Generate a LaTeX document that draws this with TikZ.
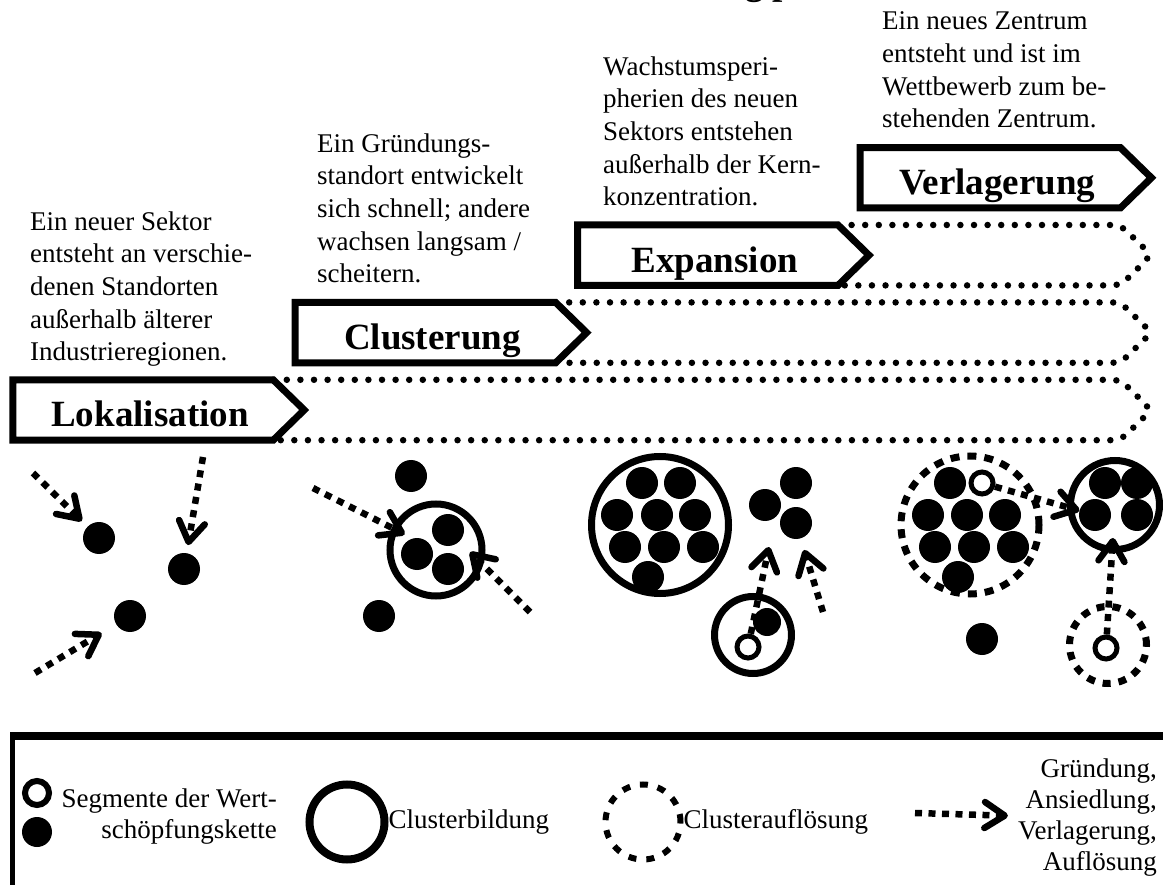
\documentclass[tikz,border=0pt]{standalone}
\usepackage{fontspec}
\setmainfont{Liberation Serif}
\usepackage{tikz}
\usetikzlibrary{
  arrows.meta, % for Straight Barb arrow tip
  positioning, % for relative positioning of the phase boxes and labels
}
\tikzset{
  phase/.style={ % style for the phase names
    rectangle, % the arrow outline is drawn separately
    inner sep=0pt, % no padding, the size is fixed below
    minimum width=260pt, % length of the straight part of the arrow box
    minimum height=60pt, % height of the arrow box
    text height=34pt,text depth=0pt, % puts the baseline low in the box
    execute at begin node=\hspace*{14pt}, % name sits a little to the right
    font=\fontsize{37}{40}\selectfont\bfseries,
    node distance=17pt and 22pt, % step between the phases (y and x)
  },
  phaseframe/.style={ % outline of the arrow boxes
    line width=7pt,
  },
  lane/.style={ % dotted continuation of each phase
    line width=6.5pt,line cap=round,
    dash pattern=on 0pt off 13.6pt, % round dots
    rounded corners=8pt,
  },
  desc/.style={ % text above each phase, placed at its last baseline
    align=left,inner sep=0pt,anchor=base west,
    font=\fontsize{27}{32.7}\selectfont,
  },
  seg/.style={ % segment of the value chain
    circle,fill,inner sep=0pt,
    minimum size=32pt,
  },
  ring/.style={ % open segment of the value chain
    circle,draw,fill=white,line width=5pt,inner sep=0pt,
    minimum size=22pt,
  },
  cluster/.style={ % cluster boundary
    circle,draw,line width=7pt,inner sep=0pt,
  },
  dissolve/.style={ % dissolving cluster
    cluster, % inherit the cluster style
    dash pattern=on 9pt off 8pt,
  },
  flow/.style={ % founding, settlement, relocation, closure
    line width=6.5pt,
    dash pattern=on 7pt off 6.5pt,
    -{Straight Barb[length=20pt,width=26pt,round]},
    shorten >=8pt,
  },
  legtext/.style={ % texts of the legend
    inner sep=0pt,
    font=\fontsize{27}{31}\selectfont,
  },
}

\begin{document}
\begin{tikzpicture}[x=1pt,y=-1pt]

	\useasboundingbox (0,0) rectangle (1163,885);

	\node[anchor=base west,inner sep=0pt,font=\fontsize{37}{40}\selectfont\bfseries] (title) at (745,-5) {g p};

	\node[phase] (lok) at (143,410) {Lokalisation};
	\node[phase,above right=of lok] (clu) {Clusterung};
	\node[phase,above right=of clu] (exp) {Expansion};
	\node[phase,above right=of exp] (ver) {Verlagerung};

	\draw[lane] (lok.north east) -- (ver.east |- lok.north east) -- ([xshift=31pt]ver.east |- lok.east) -- (ver.east |- lok.south east) -- (lok.south east);
	\draw[lane] (clu.north east) -- (ver.east |- clu.north east) -- ([xshift=31pt]ver.east |- clu.east) -- (ver.east |- clu.south east) -- (clu.south east);
	\draw[lane] (exp.north east) -- (ver.east |- exp.north east) -- ([xshift=31pt]ver.east |- exp.east) -- (ver.east |- exp.south east) -- (exp.south east);

	\draw[phaseframe] (lok.north west) -- (lok.north east) -- ([xshift=31pt]lok.east) -- (lok.south east) -- (lok.south west) -- cycle;
	\draw[phaseframe] (clu.north west) -- (clu.north east) -- ([xshift=31pt]clu.east) -- (clu.south east) -- (clu.south west) -- cycle;
	\draw[phaseframe] (exp.north west) -- (exp.north east) -- ([xshift=31pt]exp.east) -- (exp.south east) -- (exp.south west) -- cycle;
	\draw[phaseframe] (ver.north west) -- (ver.north east) -- ([xshift=31pt]ver.east) -- (ver.south east) -- (ver.south west) -- cycle;

	\node[desc] (lokdesc) at (30,361) {Ein neuer Sektor\\entsteht an verschie-\\denen Standorten\\außerhalb älterer\\Industrieregionen.};
	\node[desc] (cludesc) at (317,283) {Ein Gründungs-\\standort entwickelt\\sich schnell; andere\\wachsen langsam /\\scheitern.};
	\node[desc] (expdesc) at (603,206) {Wachstumsperi-\\pherien des neuen\\Sektors entstehen\\außerhalb der Kern-\\konzentration.};
	\node[desc] (verdesc) at (882,128) {Ein neues Zentrum\\entsteht und ist im\\Wettbewerb zum be-\\stehenden Zentrum.};

	% Lokalisation
	\node[seg] (lseg1) at (99,538) {};
	\node[seg] (lseg2) at (184,569) {};
	\node[seg] (lseg3) at (130,616) {};
	\coordinate (lsrc1) at (33,473);
	\coordinate (lsrc2) at (203,457);
	\coordinate (lsrc3) at (35,673);
	\draw[flow] (lsrc1) -- (lseg1);
	\draw[flow] (lsrc2) -- (lseg2);
	\draw[flow,shorten >=17pt] (lsrc3) -- (lseg3);

	% Clusterung
	\node[seg] (cseg1) at (411,476) {};
	\node[cluster,minimum size=92pt] (cclu) at (436,550) {};
	\node[seg] (cseg2) at (448,530) {};
	\node[seg] (cseg3) at (417,554) {};
	\node[seg] (cseg4) at (448,569) {};
	\node[seg] (cseg5) at (379,616) {};
	\coordinate (csrc1) at (313,488);
	\coordinate (csrc2) at (530,612);
	\draw[flow,shorten >=35pt] (csrc1) -- (cclu.center);
	\draw[flow,shorten >=15pt] (csrc2) -- (cseg2);

	% Expansion
	\node[cluster,minimum size=137pt] (eclu) at (660,525) {};
	\node[seg] (ein1) at (642,483) {};
	\node[seg] (ein2) at (680,483) {};
	\node[seg] (ein3) at (617,515) {};
	\node[seg] (ein4) at (657,515) {};
	\node[seg] (ein5) at (695,515) {};
	\node[seg] (ein6) at (625,547) {};
	\node[seg] (ein7) at (664,547) {};
	\node[seg] (ein8) at (703,547) {};
	\node[seg] (ein9) at (648,577) {};
	\node[seg] (eout1) at (765,505) {};
	\node[seg] (eout2) at (796,483) {};
	\node[seg] (eout3) at (796,523) {};
	\node[cluster,minimum size=77pt] (eclu2) at (753,635) {};
	\node[seg,minimum size=28pt] (eout4) at (767,622) {};
	\node[ring] (ering) at (748,647) {};
	\coordinate (etip) at (769,547);
	\coordinate (esrc) at (823,612);
	\draw[flow,shorten >=0pt] (ering) -- (etip);
	\draw[flow,shorten >=12pt] (esrc) -- (eout3);

	% Verlagerung
	\node[dissolve,minimum size=138pt] (vclu) at (970,525) {};
	\node[seg] (vin1) at (950,483) {};
	\node[ring] (vring1) at (982,483) {};
	\node[seg] (vin2) at (928,515) {};
	\node[seg] (vin3) at (967,515) {};
	\node[seg] (vin4) at (1005,515) {};
	\node[seg] (vin5) at (935,547) {};
	\node[seg] (vin6) at (974,547) {};
	\node[seg] (vin7) at (1013,547) {};
	\node[seg] (vin8) at (958,577) {};
	\node[seg] (vout1) at (982,639) {};
	\node[cluster,minimum size=89pt] (vclu2) at (1115,505) {};
	\node[seg] (vnew1) at (1105,483) {};
	\node[seg] (vnew2) at (1137,483) {};
	\node[seg] (vnew3) at (1095,515) {};
	\node[seg] (vnew4) at (1137,515) {};
	\node[dissolve,minimum size=77pt,dash pattern=on 8pt off 8pt] (vclu3) at (1108,645) {};
	\node[ring] (vring2) at (1106,648) {};
	\draw[flow,shorten >=0pt] (vring1) -- (vnew3);
	\draw[flow,shorten >=33pt] (vring2) -- (vclu2.center);

	% legend
	\draw[line width=8pt] (12,736) -- (1170,736);
	\draw[line width=5pt] (12,732) -- (12,890);

	\node[ring,minimum size=24pt,line width=6pt] (legring) at (37,793) {};
	\node[seg,minimum size=30pt] (legseg) at (37,832) {};
	\node[legtext,align=right,anchor=base east] (legsegtext) at (277,838) {Segmente der Wert-\\schöpfungskette};

	\node[cluster,minimum size=75pt,line width=8pt] (legclu) at (347,822) {};
	\node[legtext,right=0pt of legclu] (legclutext) {Clusterbildung};

	\node[dissolve,minimum size=75pt,line width=6pt,dash pattern=on 8pt off 10pt] (legdis) at (643,822) {};
	\node[legtext,right=0pt of legdis] (legdistext) {Clusterauflösung};

	\node[legtext,align=right,anchor=east] (legflowtext) at (1157,818) {Gründung,\\Ansiedlung,\\Verlagerung,\\Auflösung};
	\coordinate (legsrc) at (915,813);
	\draw[flow,shorten >=10pt] (legsrc) -- (legflowtext);

\end{tikzpicture}
\end{document}
